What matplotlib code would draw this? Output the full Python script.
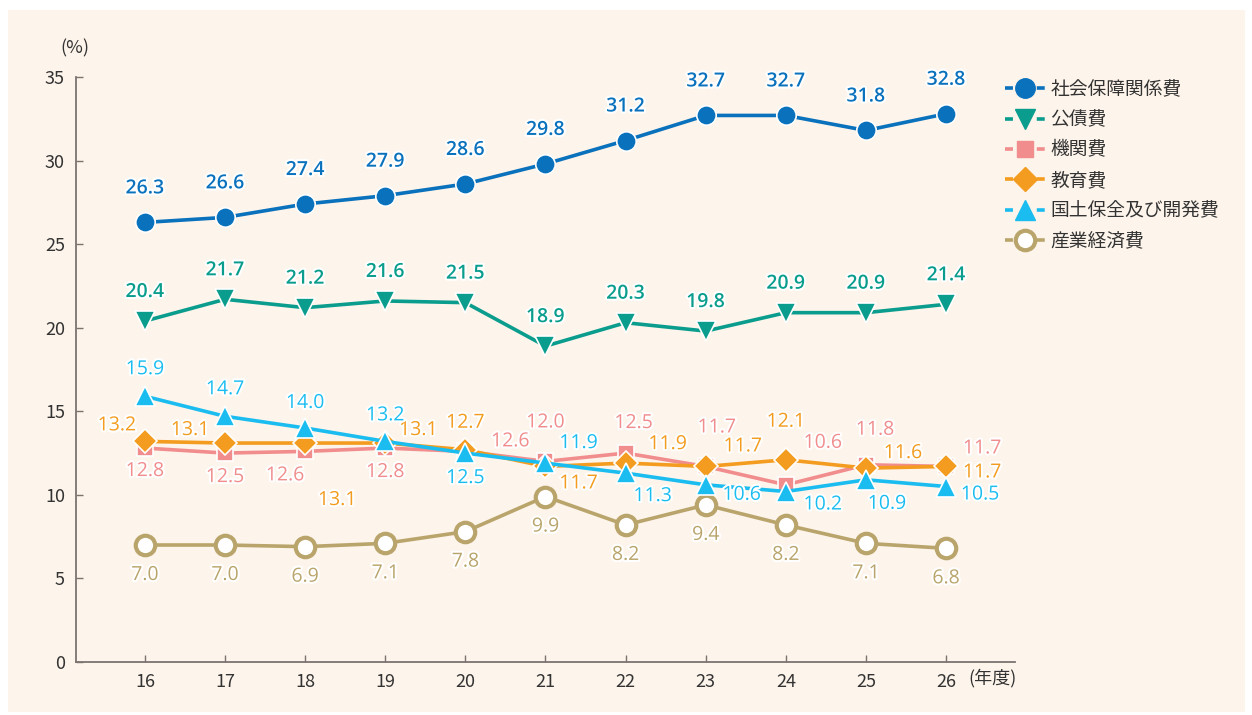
from matplotlib import pyplot as plt;
from matplotlib import patheffects;
from matplotlib.lines import Line2D;
from matplotlib.patches import Rectangle;

plt.rcParams['font.family'] = ['Noto Sans CJK JP', 'DejaVu Sans'];

# fiscal years (平成)
years = [16, 17, 18, 19, 20, 21, 22, 23, 24, 25, 26];

names = ["社会保障関係費", "公債費", "機関費", "教育費", "国土保全及び開発費", "産業経済費"];
shakai = [26.3, 26.6, 27.4, 27.9, 28.6, 29.8, 31.2, 32.7, 32.7, 31.8, 32.8];
kousai = [20.4, 21.7, 21.2, 21.6, 21.5, 18.9, 20.3, 19.8, 20.9, 20.9, 21.4];
kikan = [12.8, 12.5, 12.6, 12.8, 12.6, 12.0, 12.5, 11.7, 10.6, 11.8, 11.7];
kyouiku = [13.2, 13.1, 13.1, 13.1, 12.7, 11.7, 11.9, 11.7, 12.1, 11.6, 11.7];
kokudo = [15.9, 14.7, 14.0, 13.2, 12.5, 11.9, 11.3, 10.6, 10.2, 10.9, 10.5];
sangyou = [7.0, 7.0, 6.9, 7.1, 7.8, 9.9, 8.2, 9.4, 8.2, 7.1, 6.8];

# label offsets in pixels (dx, dy), dy positive = down on the picture
offShakai = [(0, -34)] * 11;
offKousai = [(0, -29)] * 11;
offKikan = [(0, 23), (0, 24), (-20, 24), (0, 24), (45, -10), (0, -39),
            (8, -30), (11, -39), (37, -42), (9, -35), (36, -18)];
offKyouiku = [(-28, -16), (-35, -13), (32, 57), (33, -13), (0, -27), (33, 17),
              (42, -19), (37, -20), (0, -38), (37, -15), (36, 6)];
offKokudo = [(0, -27), (0, -27), (0, -25), (0, -26), (0, 25), (33, -20),
             (27, 23), (36, 10), (37, 13), (21, 24), (34, 8)];
offSangyou = [(0, 30)] * 11;

series = [
    (shakai, offShakai, "#0a71bc", "o", 14, "semibold", "#0a71bc"),
    (kousai, offKousai, "#0a9d8e", "v", 14, "semibold", "#0a9d8e"),
    (kikan, offKikan, "#f18d8d", "s", 12, "normal", "#f18d8d"),
    (kyouiku, offKyouiku, "#f39c1f", "D", 12, "normal", "#f39c1f"),
    (kokudo, offKokudo, "#1bbdf0", "^", 14, "normal", "#1bbdf0"),
    (sangyou, offSangyou, "#b9a56b", "o", 14, "normal", "white"),
];
zorders = [5, 5, 6, 7, 8, 4];

fig = plt.figure(figsize=(12.52, 7.15), dpi=100, facecolor="white");
fig.patches.append(Rectangle((8 / 1252, 3 / 715), 1237 / 1252, 702 / 715,
                             transform=fig.transFigure, facecolor="#fdf4eb",
                             edgecolor="none", zorder=-10));
ax = fig.add_axes([76 / 1252, 53 / 715, 939 / 1252, 585 / 715]);
ax.set_facecolor("none");

halo = [patheffects.withStroke(linewidth=3, foreground="white")];
handles = [];
for i in range(len(series)):
    vals, offs, col, mk, ms, fw, face = series[i];
    mew = 3 if face == "white" else 1.2;
    edge = col if face == "white" else "white";
    ax.plot(years, vals, color=col, lw=2.6, marker=mk, markersize=ms,
            markerfacecolor=face, markeredgecolor=edge, markeredgewidth=mew,
            zorder=zorders[i], clip_on=False);
    for x, v, o in zip(years, vals, offs):
        ax.annotate("%.1f" % v, (x, v), xytext=(o[0], -o[1]), textcoords="offset pixels",
                    ha="center", va="center", fontsize=14, fontweight=fw, color=col,
                    family=["Open Sans", "DejaVu Sans"], path_effects=halo, zorder=10);
    # legend key: short dash, marker, short dash
    handles.append(Line2D([], [], color=col, lw=2.6, linestyle=(0, (2.2, 6.6)),
                          marker=mk, markersize=ms, markerfacecolor=face,
                          markeredgecolor=col, markeredgewidth=mew if face == "white" else 1));

ax.set_xlim(15.14, 26.86);
ax.set_ylim(0, 35);
ax.set_yticks(range(0, 36, 5));
ax.set_xticks(years);
ax.tick_params(direction="in", length=5, width=1, colors="#7a7370", labelcolor="#333333",
               labelsize=13, pad=8);
for s in ["top", "right"]:
    ax.spines[s].set_visible(False);
for s in ["left", "bottom"]:
    ax.spines[s].set_color("#7a7370");
    ax.spines[s].set_linewidth(1.3);

fig.text(75 / 1252, 1 - 48 / 715, "(%)", ha="center", va="center", fontsize=13, color="#333333");
fig.text(993 / 1252, 1 - 678 / 715, "(年度)", ha="center", va="center", fontsize=13, color="#333333");

fig.legend(handles, names, loc="upper left", bbox_to_anchor=(988 / 1252, 1 - 62 / 715),
           frameon=False, fontsize=13.5, handlelength=2.13, labelspacing=0.5,
           handletextpad=0.3, labelcolor="#333333");

plt.savefig("out.png", dpi=100, facecolor="white");
